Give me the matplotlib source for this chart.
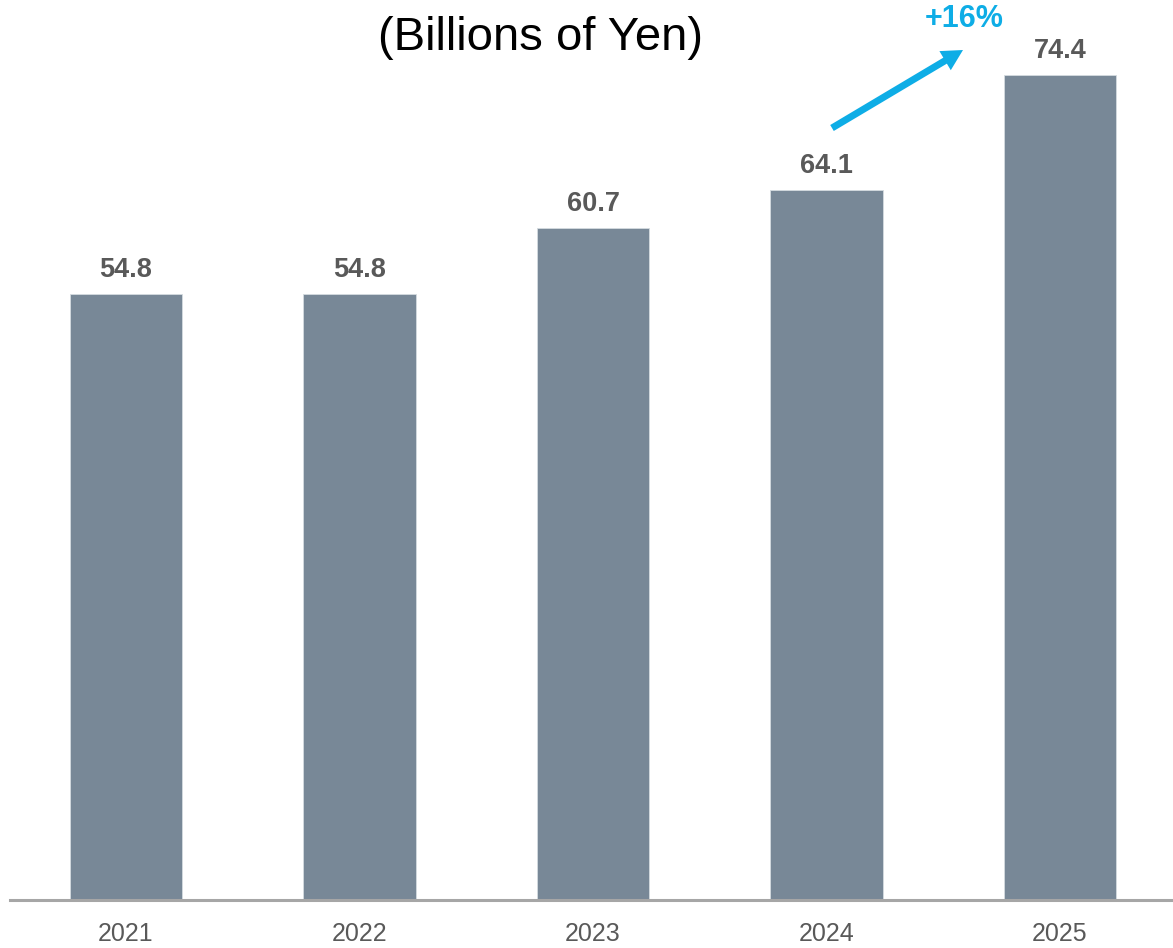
import matplotlib
matplotlib.use("Agg")
import matplotlib.pyplot as plt
from matplotlib import font_manager

years = ["2021", "2022", "2023", "2024", "2025"]
values = [54.8, 54.8, 60.7, 64.1, 74.4]
title_text = "(Billions of Yen)"
growth_text = "+16%"

W, H = 1173, 948
fig = plt.figure(figsize=(W / 100, H / 100), dpi=100)
ax = fig.add_axes([10 / W, 48 / H, 1 - 10 / W, 1 - 48 / H])

bar_color = "#788897"
label_color = "#595959"
accent = "#0EADE6"

x = list(range(len(years)))
bars = ax.bar(x, values, width=0.48, color=bar_color, edgecolor="#d5dbe0", linewidth=0.6)

for xi, v in zip(x, values):
    ax.annotate(f"{v:.1f}", (xi, v), xytext=(0, 8), textcoords="offset points",
                ha="center", va="bottom", fontsize=19.5, fontweight="bold",
                color=label_color, family=["Liberation Sans", "DejaVu Sans"])

ax.set_xlim(-0.497, 4.484)
ax.set_ylim(0.54, 81.1)
for s in ["top", "right", "left"]:
    ax.spines[s].set_visible(False)
ax.spines["bottom"].set_color("#a6a6a6")
ax.spines["bottom"].set_linewidth(2.2)
ax.set_yticks([])
ax.set_xticks(x)
names = {f.name for f in font_manager.fontManager.ttflist}
narrow = "Liberation Sans Narrow" if "Liberation Sans Narrow" in names else "Liberation Sans"
ax.set_xticklabels(years, fontsize=21.5 if narrow != "Liberation Sans" else 18,
                   color=label_color, family=[narrow, "DejaVu Sans"])
ax.tick_params(axis="x", length=0, pad=16)

fig.text(540 / W, 1 - 38 / H, title_text, ha="center", va="center", fontsize=34,
         color="black", family=["Liberation Sans", "DejaVu Sans"])
fig.text(964 / W, 1 - 19 / H, growth_text, ha="center", va="center", fontsize=22,
         fontweight="bold", color=accent, family=["Liberation Sans", "DejaVu Sans"])

ax.annotate("", xy=(963 / W, 1 - 50 / H), xycoords="figure fraction",
            xytext=(832 / W, 1 - 128 / H), textcoords="figure fraction",
            arrowprops=dict(arrowstyle="simple,head_width=1.6,head_length=1.5,tail_width=0.5",
                            mutation_scale=10, color=accent, lw=0,
                            shrinkA=0, shrinkB=0))

fig.savefig("out.png", dpi=100)
